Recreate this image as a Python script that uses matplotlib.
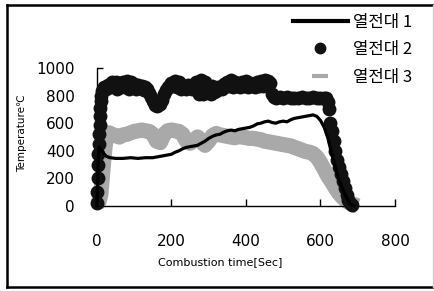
import matplotlib
matplotlib.use("Agg")
import matplotlib.pyplot as plt
from matplotlib.lines import Line2D

# 열전대 1 : ligne noire
t1 = [0, 2, 4, 6, 8, 12, 18, 25, 35, 50, 70, 90, 110, 130, 150, 170, 190, 200,
      210, 220, 230, 240, 250, 260, 270, 280, 290, 300, 310, 320, 330, 340, 350,
      360, 370, 380, 390, 400, 410, 420, 430, 440, 450, 460, 470, 480, 490, 500,
      510, 520, 530, 540, 550, 560, 570, 580, 590, 600, 610, 620, 630, 640, 650,
      660, 670, 680, 690]
temp1 = [0, 200, 380, 430, 420, 400, 380, 360, 350, 345, 345, 350, 345, 350, 350,
         360, 370, 375, 390, 400, 415, 425, 430, 435, 440, 455, 470, 490, 505, 515,
         520, 535, 545, 550, 545, 555, 560, 565, 570, 580, 595, 600, 610, 615, 605,
         600, 610, 615, 610, 625, 635, 640, 645, 650, 655, 660, 650, 620, 570, 490,
         380, 280, 190, 120, 60, 15, 0]

# 열전대 2 : points noirs
t2 = [0, 1, 2, 3, 4, 5, 6, 7, 8, 9, 10, 11, 13, 16, 20, 25, 30, 35, 40, 45, 50,
      55, 60, 65, 70, 75, 80, 85, 90, 95, 100, 105, 110, 115, 120, 125, 130, 135,
      140, 145, 150, 155, 160, 165, 170, 175, 180, 185, 190, 195, 200, 205, 210,
      215, 220, 225, 230, 235, 240, 245, 250, 255, 260, 265, 270, 275, 280, 285,
      290, 295, 300, 305, 310, 315, 320, 325, 330, 335, 340, 345, 350, 355, 360,
      365, 370, 375, 380, 385, 390, 395, 400, 405, 410, 415, 420, 425, 430, 435,
      440, 445, 450, 455, 460, 465, 470, 475, 480, 490, 500, 510, 520, 530, 540,
      550, 560, 570, 580, 590, 600, 610, 615, 620, 623, 626, 630, 635, 640, 645,
      650, 655, 660, 665, 670, 675, 680, 685]
temp2 = [20, 100, 200, 300, 380, 450, 520, 590, 650, 710, 760, 800, 830, 850, 860,
         850, 880, 860, 900, 860, 900, 850, 890, 860, 900, 860, 905, 850, 895, 860,
         885, 850, 880, 855, 870, 840, 860, 845, 820, 790, 760, 735, 725, 730, 740,
         770, 810, 840, 860, 880, 890, 870, 905, 860, 895, 850, 870, 860, 850, 880,
         870, 850, 860, 900, 890, 815, 915, 810, 900, 825, 855, 815, 870, 825, 835,
         860, 855, 845, 885, 870, 900, 870, 910, 860, 900, 870, 885, 860, 895, 870,
         905, 860, 890, 870, 880, 860, 895, 870, 905, 870, 915, 880, 905, 890, 815,
         790, 785, 790, 785, 790, 785, 780, 785, 790, 785, 785, 790, 785, 780, 785,
         785, 755, 700, 600, 540, 470, 400, 330, 280, 230, 180, 130, 80, 45, 20, 5]

# 열전대 3 : bande grise
t3 = [0, 5, 10, 14, 18, 22, 26, 32, 40, 50, 60, 70, 80, 90, 100, 110, 120, 130,
      140, 150, 160, 170, 180, 190, 200, 210, 220, 230, 240, 250, 260, 270, 280,
      290, 300, 310, 320, 330, 340, 350, 360, 370, 380, 390, 400, 410, 420, 430,
      440, 450, 460, 470, 480, 490, 500, 510, 520, 530, 540, 550, 560, 570, 580,
      590, 600, 610, 620, 630, 640, 650, 660, 670, 680, 690, 700]
temp3 = [10, 30, 80, 200, 330, 440, 500, 530, 520, 510, 500, 515, 520, 530, 540,
         545, 550, 545, 540, 520, 470, 460, 520, 545, 550, 545, 540, 520, 470, 455,
         475, 500, 465, 440, 470, 510, 525, 515, 510, 505, 500, 495, 505, 500, 495,
         490, 490, 485, 480, 470, 465, 460, 455, 450, 445, 440, 435, 425, 415, 405,
         395, 390, 380, 355, 315, 265, 215, 175, 130, 90, 60, 35, 20, 10, 0]

x_ticks = [0, 200, 400, 600, 800]
y_ticks = [0, 200, 400, 600, 800, 1000]
noms = ['열전대 1', '열전대 2', '열전대 3']

fig = plt.figure(figsize=(4.35, 2.91), dpi=100)
ax = fig.add_axes([97/435, 1-206/291, 298/435, 138/291])

ax.plot(t3, temp3, color='#a9a9a9', lw=11, solid_joinstyle='round',
        solid_capstyle='butt', clip_on=False, zorder=2)
ax.plot(t2, temp2, 'o', color='#111111', ms=10, mew=0, clip_on=False, zorder=3)
ax.plot(t1, temp1, '-', color='black', lw=2.3, clip_on=False, zorder=4)

ax.set_xlim(0, 800)
ax.set_ylim(0, 1000)
ax.set_xticks(x_ticks)
ax.set_yticks(y_ticks)
ax.tick_params(axis='x', direction='in', length=5, width=1, pad=20, labelsize=11)
ax.tick_params(axis='y', direction='in', length=4, width=1, pad=16, labelsize=11)
for s in ['top', 'right']:
    ax.spines[s].set_visible(False)
ax.spines['left'].set_linewidth(1)
ax.spines['bottom'].set_linewidth(1)

fig.text(220/435, 1-262/291, 'Combustion time[Sec]', ha='center', va='center', fontsize=8)
fig.text(22/435, 1-133/291, 'Temperature℃', ha='center', va='center',
         rotation=90, fontsize=7.5)

# legende
poignees = [Line2D([], [], color='black', lw=3),
            Line2D([], [], marker='o', ls='none', color='#111111', ms=7.5),
            Line2D([], [], marker='_', ls='none', color='#a9a9a9', ms=12, mew=3)]
leg = fig.legend(poignees, noms, loc='upper left', bbox_to_anchor=(293/435, 1-14/291),
                 frameon=False, handlelength=3.3, handletextpad=0.3, labelspacing=0.62,
                 borderpad=0, borderaxespad=0,
                 prop={'family': ['Noto Sans CJK KR', 'DejaVu Sans'], 'size': 12})

# cadre
fig.add_artist(Line2D([7/435, 7/435], [1-5/291, 1-287/291], color='black', lw=1.8))
fig.add_artist(Line2D([7/435, 433/435], [1-5/291, 1-5/291], color='black', lw=1.8))
fig.add_artist(Line2D([7/435, 433/435], [1-287/291, 1-287/291], color='black', lw=1.8))
fig.add_artist(Line2D([433/435, 433/435], [1-5/291, 1-287/291], color='#cccccc', lw=1))

fig.savefig('out.png', dpi=100)
